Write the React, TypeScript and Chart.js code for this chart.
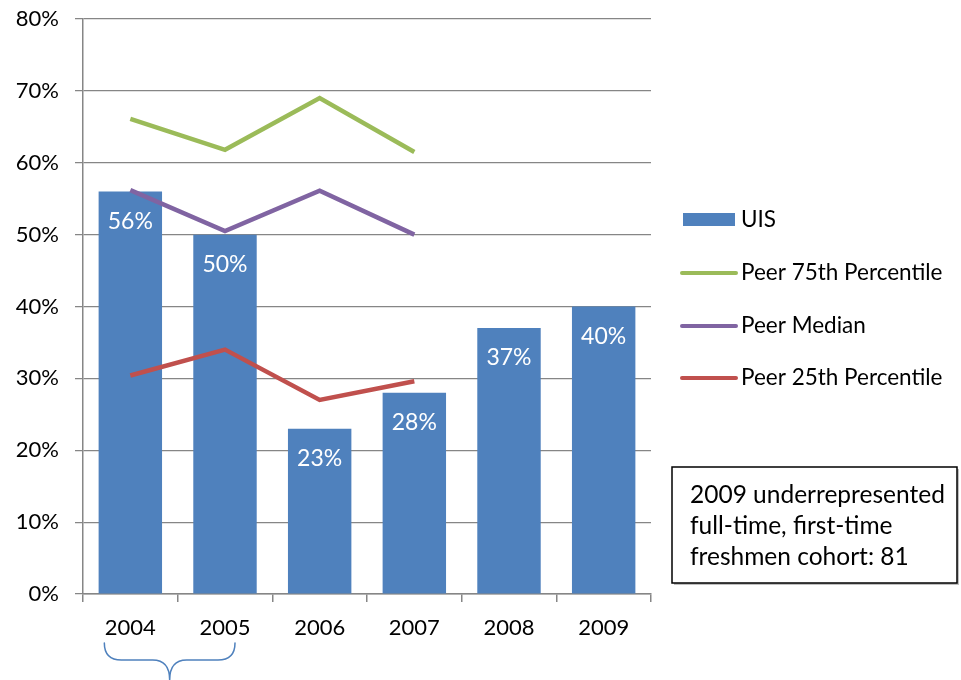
import React, { useEffect, useRef } from "react";
import { Chart, registerables } from "chart.js";

Chart.register(...registerables);

const categories = ["2004", "2005", "2006", "2007", "2008", "2009"];
const uisValues = [56, 50, 23, 28, 37, 40];
const peer75Values = [66.1, 61.8, 69, 61.5, null, null];
const peerMedianValues = [56.2, 50.5, 56.1, 50, null, null];
const peer25Values = [30.4, 34, 27, 29.6, null, null];
const yTicks = [0, 10, 20, 30, 40, 50, 60, 70, 80];
const noteLines = ["2009 underrepresented", "full-time, first-time", "freshmen cohort: 81"];

const FONT = "Lato, 'Open Sans', sans-serif";
const BLUE = "#4F81BD";
const GREEN = "#9BBB59";
const PURPLE = "#8064A2";
const RED = "#C0504D";
const GRID = "#868686";

export default function App() {
  const ref = useRef<HTMLCanvasElement | null>(null);

  useEffect(() => {
    document.body.style.margin = "0";
    const canvas = ref.current;
    if (!canvas) return;

    const labelsPlugin = {
      id: "barLabels",
      afterDatasetsDraw(chart: any) {
        const ctx = chart.ctx;
        const meta = chart.getDatasetMeta(0);
        ctx.save();
        ctx.fillStyle = "#ffffff";
        ctx.font = `23px ${FONT}`;
        ctx.textAlign = "center";
        ctx.textBaseline = "middle";
        meta.data.forEach((el: any, i: number) => {
          const v = chart.data.datasets[0].data[i];
          ctx.fillText(`${v}%`, el.x, el.y + 30);
        });
        ctx.restore();
      },
    };

    const extrasPlugin = {
      id: "extras",
      afterDraw(chart: any) {
        const ctx = chart.ctx;
        ctx.save();
        // legend
        const ds = chart.data.datasets;
        const rows = [220, 273, 326, 378];
        ctx.font = `22.5px ${FONT}`;
        ctx.textBaseline = "middle";
        ctx.textAlign = "left";
        ds.forEach((d: any, i: number) => {
          const y = rows[i];
          if (d.type === "bar") {
            ctx.fillStyle = d.backgroundColor;
            ctx.fillRect(683, y - 7, 52, 13);
          } else {
            ctx.strokeStyle = d.borderColor;
            ctx.lineWidth = 4;
            ctx.lineCap = "round";
            ctx.beginPath();
            ctx.moveTo(682, y);
            ctx.lineTo(736, y);
            ctx.stroke();
          }
          ctx.fillStyle = "#000";
          ctx.fillText(d.label, 741, y);
        });
        // note box
        ctx.fillStyle = "rgba(0,0,0,0.25)";
        ctx.fillRect(674, 469, 285, 116);
        ctx.fillStyle = "#fff";
        ctx.fillRect(672, 467, 285, 116);
        ctx.strokeStyle = "#000";
        ctx.lineWidth = 1.5;
        ctx.strokeRect(672, 467, 285, 116);
        ctx.fillStyle = "#000";
        ctx.font = `24.5px ${FONT}`;
        noteLines.forEach((t, i) => ctx.fillText(t, 690, 495 + i * 31));
        // brace under 2004-2005
        const xs = chart.scales.x;
        const x0 = xs.getPixelForValue(0) - 26;
        const x1 = xs.getPixelForValue(1) + 10;
        const xm = (x0 + x1) / 2;
        const yt = 643, yh = 660, yb = 680;
        ctx.strokeStyle = BLUE;
        ctx.lineWidth = 1.5;
        ctx.beginPath();
        ctx.moveTo(x0, yt);
        ctx.quadraticCurveTo(x0, yh, x0 + 17, yh);
        ctx.lineTo(xm - 17, yh);
        ctx.quadraticCurveTo(xm, yh, xm, yb);
        ctx.quadraticCurveTo(xm, yh, xm + 17, yh);
        ctx.lineTo(x1 - 17, yh);
        ctx.quadraticCurveTo(x1, yh, x1, yt);
        ctx.stroke();
        ctx.restore();
      },
    };

    const lineDs = (label: string, data: (number | null)[], color: string) => ({
      type: "line" as const,
      label,
      data,
      borderColor: color,
      backgroundColor: color,
      borderWidth: 4.5,
      pointRadius: 0,
      spanGaps: false,
      order: 0,
      borderJoinStyle: "miter" as const,
    });

    const chart = new Chart(canvas, {
      type: "bar",
      data: {
        labels: categories,
        datasets: [
          {
            type: "bar",
            label: "UIS",
            data: uisValues,
            backgroundColor: BLUE,
            barPercentage: 0.67,
            categoryPercentage: 1,
            order: 1,
          } as any,
          lineDs("Peer 75th Percentile", peer75Values, GREEN),
          lineDs("Peer Median", peerMedianValues, PURPLE),
          lineDs("Peer 25th Percentile", peer25Values, RED),
        ],
      },
      options: {
        animation: false,
        responsive: false,
        layout: { padding: { left: 0, top: 19, right: 310, bottom: 0 } },
        plugins: { legend: { display: false }, tooltip: { enabled: false } },
        scales: {
          x: {
            offset: true,
            grid: {
              offset: true,
              drawOnChartArea: false,
              drawTicks: true,
              tickLength: 8,
              color: GRID,
              lineWidth: 1.5,
            },
            border: { color: GRID, width: 1.5 },
            ticks: { font: { family: FONT, size: 22 }, color: "#000", padding: 13 },
            afterFit(scale: any) {
              scale.height = 86;
              scale.paddingLeft = 0;
              scale.paddingRight = 0;
            },
          },
          y: {
            min: 0,
            max: 80,
            afterBuildTicks(scale: any) {
              scale.ticks = yTicks.map((v) => ({ value: v }));
            },
            grid: { color: GRID, lineWidth: 1.25, tickLength: 8 },
            border: { color: GRID, width: 1.5 },
            ticks: {
              font: { family: FONT, size: 22 },
              color: "#000",
              padding: 16,
              callback: (v: any) => `${v}%`,
            },
            afterFit(scale: any) {
              scale.width = 83;
              scale.paddingTop = 0;
              scale.paddingBottom = 0;
            },
          },
        },
      },
      plugins: [labelsPlugin, extrasPlugin],
    });

    return () => chart.destroy();
  }, []);

  return (
    <div style={{ position: "absolute", left: 0, top: 0, width: 961, height: 680 }}>
      <canvas ref={ref} width={961} height={680} />
    </div>
  );
}
